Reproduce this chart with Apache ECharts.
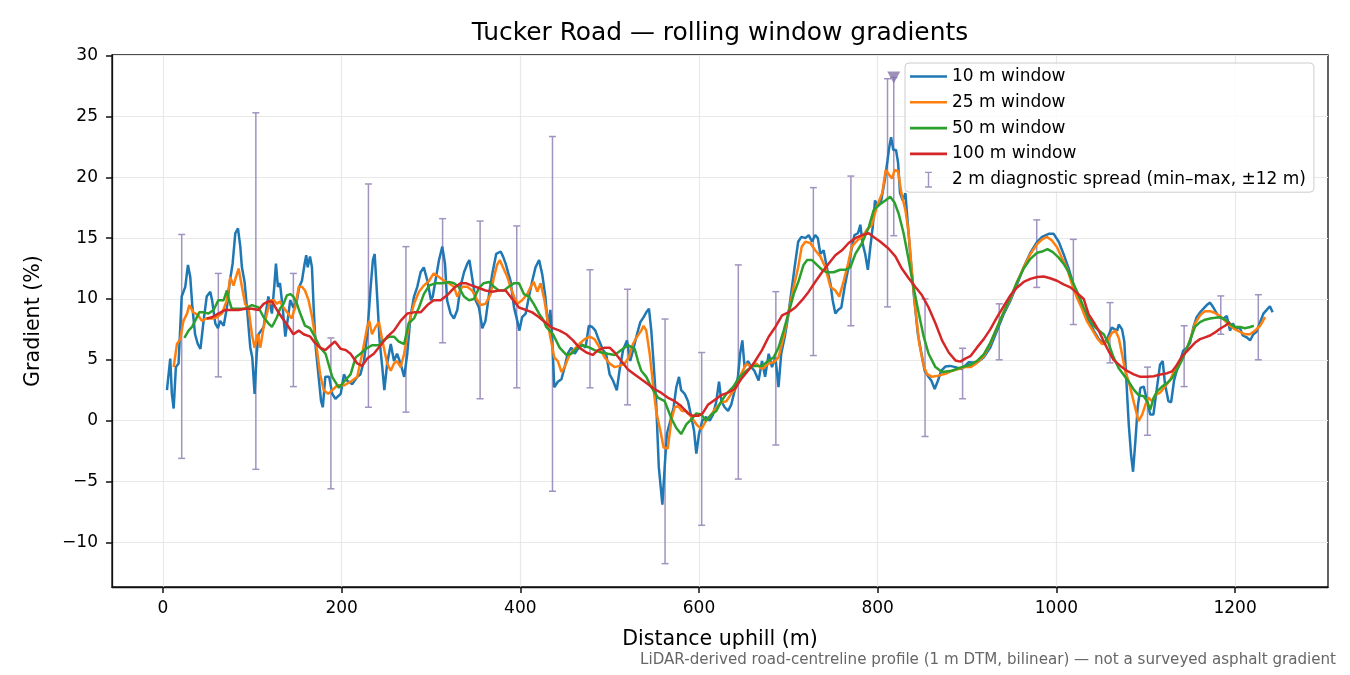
<!DOCTYPE html>
<html>
<head>
<meta charset="utf-8">
<script src="https://cdn.jsdelivr.net/npm/echarts@6/dist/echarts.min.js"></script>
<style>
  html, body { margin: 0; padding: 0; background: #fff; }
  #chart { width: 1350px; height: 675px; }
</style>
</head>
<body>
<div id="chart"></div>
<script>
// 10 m 窗口(最抖的那条)
const dist10 = [4.5,8.2,10,12,14.5,17.5,21,25,28,30.6,33,36,39,42,45.5,49,53,55,58.6,61.6,64,68,71.6,75,78,81,84,86.6,88.4,91.4,94,97.8,100,102.6,105,107,110,112.7,115,118,122,124.6,126.5,128.7,131,134,137,140,142.5,146,150,152.6,155.6,158.6,160.4,162,164.6,166.8,168.7,171,174,177,179,181.7,186,189.5,193,199,202.6,206,212,217.5,221,225,228.7,232.5,235,237,240,242.5,245.5,247.8,251,255,258.6,262,266,270,273.5,277,281,284.7,288.4,292,296,300,302,305,309,312.7,315.7,318,322,325.7,329.5,333,337,340.7,343,346,350,353.7,357.5,361,365,368.7,373,378,380.6,383.6,386.6,389,393,396.6,399,402,406,409.7,413.4,417,421,424.6,428,431,433.6,435.8,438,442,446,449.6,453,457,460.8,464.5,468,473,476.7,480.5,484,488,492.5,496,500,503.7,508,511,515,519.4,523,526.9,530.6,534.3,538,541,544,546.6,549,552,555,559,561.6,564,568,571.6,574.6,577.6,580,584,587.7,591.4,594.4,597,600,603.7,608,612,615.7,619.4,622.4,625,628.7,632.5,636,640,643.6,646,648.5,651,654.8,658.6,662,666.7,670.5,674,678,681.7,685.5,689,692,696,699.6,703,707,711,714.6,719,722.8,726.5,730,733,735.8,739.5,743,747,749.6,752.6,755.6,759.3,763,766.8,770.5,774,777.9,780.6,783,786,789,791.8,794.4,797,800,804,808,811,813,815,817.5,820.5,822.8,825,828,831,834,837.7,841,845,849,852.6,856,860,863.8,867.5,871,875.7,881,887,894,902,911,918.7,926,933.6,941,948.5,956,963.4,970.9,978.4,984,991.4,997,1002.6,1008,1013.8,1019.4,1025,1030.6,1036,1041.8,1047.4,1053,1056.7,1062,1068,1069.8,1073.5,1076,1078.4,1081,1083.6,1085.8,1088.4,1091,1094,1097.8,1101.5,1105,1108.6,1112,1116,1119,1121.6,1125.4,1128.4,1131.7,1134.7,1138.4,1142,1146,1149.6,1153.4,1157,1160.8,1164.6,1168.3,1172,1175.7,1179.5,1183,1187,1190.7,1194.4,1197.4,1201,1205,1208.6,1213,1216.8,1220.5,1224,1228,1231.7,1235.4,1239,1242];
const grad10 = [2.5,5.1,2.2,1.0,4.4,4.7,10.2,11,12.8,11.8,9.3,7.1,6.3,5.9,8.2,10.2,10.6,9.9,8.0,7.6,8.2,7.8,9.3,11.5,12.9,15.4,15.8,14.3,12.6,11.4,9.3,6.0,5.2,2.2,5.5,7.1,7.4,7.7,8.8,10.2,8.8,11,12.9,11,11.3,9.3,6.9,8.5,9.9,9.3,9.9,11,11.5,12.9,13.6,12.6,13.5,12.6,9.3,6.0,3.8,1.6,1.1,3.6,3.6,2.2,1.8,2.2,3.8,3.3,3.0,3.6,3.8,4.9,7.1,11.0,13.2,13.7,9.9,6.6,4.4,2.5,4.7,6.3,4.9,5.5,4.7,3.6,5.5,8.5,10.2,11,12.2,12.6,11.5,9.9,10.2,11.5,13.2,14.3,12.9,9.9,8.8,8.4,9.1,11,12.2,12.9,13.2,11.8,9.9,9.3,7.6,8.2,10.4,12.1,13.7,13.9,13.5,12.9,12.1,11.5,9.3,8.2,7.4,8.5,8.8,10.2,11.5,12.6,13.2,12.0,10.2,7.7,9.1,6.6,2.75,3.2,3.4,4.4,5.5,6.0,5.5,5.9,6.3,6.0,7.8,7.7,7.4,6.6,5.8,5.5,3.8,3.3,2.5,4.1,5.8,6.6,4.9,6.0,7.1,8.1,8.5,8.9,9.2,7.4,4.9,1.6,-3.8,-6.9,-3.8,-1.1,0,1.1,2.75,3.6,2.5,2.2,1.6,0.3,-0.8,-2.7,-1.1,0,0.3,0,0.5,1.6,3.2,1.6,1.1,0.8,1.3,2.5,3.6,5.5,6.6,4.4,4.9,4.4,4.1,3.3,4.9,3.6,5.5,4.4,5.2,2.75,5.5,6.9,8.5,10.4,12.6,14.7,15.1,15,15.25,14.7,15.25,15,13.7,14.0,12.6,11.3,9.9,8.8,9.1,9.3,11,12.4,14,15.25,15.4,16.1,14.6,13.7,12.4,14.3,15.9,18.1,17.6,18.1,19.8,21.4,22.5,23.3,22.25,22.25,21.2,18.7,18.1,18.7,15.9,12.6,9.9,7.1,5.5,4.1,3.7,3.3,2.6,3.3,4.1,4.45,4.5,4.4,4.25,4.8,4.75,5.2,6.0,7.4,8.75,9.85,11.2,12.6,13.8,14.7,15.1,15.35,15.35,14.7,13.7,12.5,11.1,10.0,9.0,8.2,7.4,6.7,6.3,6.7,7.65,7.4,7.9,7.5,6.5,3.2,-0.3,-2.8,-4.2,-1.7,1.1,2.7,2.8,1.6,0.5,0.5,2.4,4.6,4.9,3.0,1.6,1.5,3.3,4.1,4.9,5.75,6.0,6.4,7.7,8.5,8.9,9.2,9.5,9.7,9.3,8.8,8.5,8.4,8.6,7.4,8.0,7.5,7.7,7.0,6.85,6.6,7.1,7.3,8.1,8.8,9.1,9.4,8.9];

// 25 m 窗口
const dist25 = [12,15.7,19.4,23,27,29.5,34,39,43.6,49,55,60.4,66,71.6,75.4,79,81.7,84.7,88.4,92,96,99.6,102.6,106,109,112.7,116.4,120,124,127.6,131,135,140,144,148,152,155.6,159,163,167,171,176,180,185,189.5,195,202.6,210,217.5,223,228.7,231,234,238,241.8,245.5,251,255,258.6,262,266,270,273.5,277,281,286.6,292,298,303,309,314.5,320,325.7,329.5,335,340.7,346,351.9,355.6,361,366.8,370.5,374,377,380.6,385.5,389,393,396.6,402,407.8,411.6,415,419,422.8,427,433,438,442,446,449.6,455,460.8,466,472,477.6,483,488.8,494.4,500,505.6,511,516.8,521.6,526,530.6,535.4,538,541,544.8,548.5,552,556.7,560.4,565,569,572.8,576.5,581,585.8,591.4,597,602.6,608,613.8,619.4,625,630.6,636,641.8,647,653,658.6,664,670.5,678,683.6,689,694.8,700,706,711,715,719,724.6,730,735.8,741.4,747,752.6,757,762,766.8,771,777,782.5,788,793.6,799,805,809,812,816,819,822.8,826.5,831,834.7,838.4,842,846.6,851.5,855,860.8,868,875.7,883,890.5,898,904,911,918.7,926,933.6,941,948.5,956,963.4,970.9,978.4,984,989.5,995,1000.7,1006,1012,1017.5,1023,1028.7,1034,1039.8,1045.5,1051,1056.7,1062,1066,1069.8,1073.5,1077,1081,1084.7,1088.4,1092,1096,1099.6,1103,1107,1110.8,1116,1121.6,1127,1132,1138.4,1144,1149.6,1155,1160.8,1166.4,1172,1177.6,1183,1188.8,1194.4,1200,1205.6,1211,1216.8,1222.4,1228,1233.6];
const grad25 = [4.4,6.3,6.7,8.2,8.8,9.5,8.9,8.7,8.2,8.4,8.4,8.5,8.8,9.9,11.8,11.1,11.8,12.5,11,9.6,9.1,7.1,6.0,7.1,6.0,7.7,8.8,9.9,9.9,9.6,9.8,9.3,8.8,8.4,9.3,11,11,10.7,9.9,8.5,6.6,3.8,2.5,2.2,2.5,2.9,2.9,3.2,3.6,5.5,7.7,8.2,7.1,7.7,8.1,6.6,4.7,4.1,4.7,4.9,4.4,5.5,7.1,8.5,9.6,10.6,11.1,11.5,12.1,11.8,11.5,11.3,11,10.2,11,11,10.7,9.9,9.5,9.6,10.4,11.8,12.8,13.2,12.6,11.8,11,10.2,9.6,9.9,10.4,11,11.4,10.6,11.3,9.9,7.1,5.2,4.9,4.0,4.4,5.4,5.9,6.3,6.7,6.9,6.7,6.0,5.2,4.7,4.4,4.5,4.7,5.2,6.3,6.9,7.4,7.8,7.4,5.5,3.0,0.8,-0.8,-2.2,-2.3,0,1.1,1.2,0.8,0.8,0.3,-0.3,-0.7,0,0.5,1.1,1.5,1.6,2.2,2.75,3.8,4.7,4.4,4.7,4.25,4.7,4.8,5.2,6.9,8.8,11,12.6,14.3,14.7,14.6,14,13.5,12.6,11,10.7,10.2,11.5,12.9,14.3,14.8,15.1,15.7,16.1,17.6,18.7,20.6,20.3,19.9,20.6,20.5,18.7,17.3,15.4,12.1,9.3,6.3,4.5,3.85,3.6,3.7,3.85,4.1,4.25,4.4,4.4,4.75,5.3,6.3,7.65,8.9,10,11.4,12.6,13.7,14.5,14.9,15.1,14.8,14.25,13.4,12.5,11.2,10.1,9.2,8.2,7.5,6.8,6.3,6.5,7.2,7.4,6.8,5.45,4.1,3.2,2.1,1.0,-0.05,0.5,1.3,1.9,1.6,2.1,2.3,2.8,3.3,4.1,4.8,5.6,6.6,7.95,8.65,9.0,9.0,8.85,8.6,8.2,7.8,7.5,7.3,7.1,7.1,7.4,7.8,8.5];

// 50 m 窗口
const dist50 = [24,28.7,32.5,36,40.7,45.5,51,56.7,62,68,71.6,74,77,84.7,92,99.6,107,112.7,118,122,127.6,131,135,138.8,142.5,146,150,153.7,159,164.6,170,176,182,189.5,197,202.6,210,215.7,221,227,234,241.8,247,253,258.6,264,270,275,281,286.6,292,298,305,312.7,320,325.7,331,337,342.5,348,353.7,359,365,370.5,376,381.7,387,393,398.5,404,409.7,415,421,426.5,429,436.6,444,451.5,457,462.7,470,477.6,483,490.6,498,505.6,513,520.5,528,531.7,535.4,541,546.6,554,561.6,569,574.6,580,585.8,591.4,597,602.6,608,613.8,619.4,625,630.6,638,645.5,653,660.4,670.5,678,683.6,689,694.8,700,706,711.6,717,721,726.5,732,737.7,743,750.7,758,763.8,769.4,775,782.5,790,795.5,801,808.6,814,819,823.5,829,834.7,840,846,851.5,857,864.6,872,883,894,904,911,918.7,926,933.6,941,948.5,956,963.4,970.9,978.4,984,990,996,1002.6,1008,1013.8,1019.4,1025,1030.6,1036,1041.8,1047.4,1053,1058.6,1064,1069.8,1075,1081,1086.6,1092,1097.8,1101.5,1105,1109,1112.7,1118.3,1124,1129.5,1135,1140.7,1146,1150,1155,1160.8,1166.4,1172,1177.6,1183,1188.8,1194.4,1200,1205.6,1211,1216.8,1221];
const grad50 = [6.8,7.4,7.7,8.2,8.9,8.9,8.8,9.1,9.9,9.9,10.7,9.9,9.2,9.2,9.2,9.5,9.3,8.5,8.0,7.7,8.5,9.2,9.6,10.3,10.4,10.2,9.6,8.8,7.8,7.6,6.9,6.0,5.5,3.6,2.7,3.2,3.8,5.2,5.5,5.9,6.2,6.2,6.6,6.9,6.9,6.5,6.3,8.0,8.4,9.3,10.4,11.1,11.3,11.3,11.4,11.3,11,10.2,9.9,10,10.9,11.3,11.4,11,10.7,10.7,11,11.3,11.3,10.4,10.2,9.6,8.8,8.2,7.7,7.1,6.0,5.4,5.5,5.9,6.2,6.0,5.8,5.6,5.5,5.4,5.8,6.2,5.9,4.9,4.1,3.6,2.75,1.9,1.6,0.2,-0.6,-1.1,-0.3,0.1,0.6,0.5,0,0.5,0.8,1.6,2.2,2.75,3.6,4.1,4.5,4.5,4.95,5.2,6.0,7.4,8.8,10.4,11.5,12.8,13.2,13.2,12.8,12.4,12.2,12.2,12.4,12.4,12.6,13.7,14.6,15.9,17.3,17.7,18.1,18.4,17.9,17,15.4,13.2,11,8.8,6.9,5.5,4.4,4.0,4.1,4.4,4.6,4.9,5.45,6.4,7.65,8.9,10.1,11.4,12.5,13.3,13.8,13.9,14.1,13.85,13.4,12.9,12.2,11.2,10.3,9.3,8.5,7.8,7.4,7.1,6.3,5.2,4.3,3.8,3.2,2.55,2.1,2.0,1.6,0.9,1.9,2.4,2.8,3.1,3.5,4.2,5.0,5.9,6.7,7.7,8.1,8.3,8.4,8.45,8.5,8.3,7.95,7.7,7.7,7.6,7.7,7.8];

// 100 m 窗口
const dist100 = [49,55,62,70,77,84.7,92,99.6,107,112.7,118,122,127.6,133,140.7,146,152,157.5,165,170,176,181.7,187.7,192.5,199,204.5,210,217.5,223,228.7,236,243.6,251,258.6,266,273.5,281,288.4,296,303,310.8,318,325.7,333,339,346,353.7,361,368.7,376,383.6,391,398.5,406,413.4,421,429,436.6,444,451.5,459,466,474,481,487,494.4,500,505.6,513,520.5,528,535.4,543,550,557.5,565,572.8,580,587.7,593,599,604,610,617.5,625,632.5,640,647,654.8,662,670.5,678,685.5,693,700,707.8,715.3,722.8,730,737.7,745,752.6,760,767.5,775,782.5,790,795.5,803,812,819.8,827,834.7,842,849.6,857,864.6,872,879.5,887,892.5,898,903.7,911,918.7,926,933.6,941,948.5,956,963.4,970.9,978.4,985.8,993,1000.7,1008,1015.7,1023,1030.6,1036,1041.8,1047.4,1053,1058.6,1064,1071.6,1079,1086.6,1094,1101.5,1109,1116.4,1124,1129.5,1135,1140.7,1146,1150,1155,1160.8,1166.4,1172,1177.6,1183,1188.8,1194.4];
const grad100 = [8.4,8.5,8.8,9.1,9.1,9.1,9.2,9.2,9.1,9.6,9.8,9.8,9.1,8.5,7.7,7.1,7.4,7.1,6.9,6.4,6.0,5.8,6.2,6.5,5.9,5.8,5.5,4.7,4.5,5.1,5.5,6.2,6.9,7.4,8.2,8.8,8.9,8.9,9.5,9.9,9.9,10.3,10.9,11.3,11.3,11.1,10.9,10.7,10.6,10.7,10.7,10,9.3,9.1,8.9,8.5,8.0,7.6,7.4,7.1,6.6,6.0,5.6,5.4,5.8,6.0,6.0,5.6,4.9,4.2,3.8,3.4,3.0,2.6,2.3,1.9,1.6,1.2,0.6,0.4,0.4,0.6,1.3,1.7,2.1,2.3,2.6,3.4,4.1,4.8,5.8,6.9,7.7,8.65,8.9,9.3,9.9,10.6,11.4,12.2,12.9,13.6,14,14.6,15,15.25,15.4,15.1,14.7,14.15,13.5,12.5,11.7,11,10.3,9.3,8.0,6.6,5.6,4.95,4.85,5.1,5.3,6.0,6.7,7.5,8.5,9.4,10.3,10.95,11.4,11.65,11.8,11.85,11.7,11.5,11.2,10.95,10.5,10.0,8.75,8.1,7.4,6.5,5.7,5.0,4.5,4.1,3.8,3.6,3.6,3.65,3.8,3.9,4.05,4.6,5.3,5.7,6.0,6.4,6.7,6.85,7.0,7.25,7.55,7.8,8.1];

// 2 m 诊断离散度:位置、最小、最大
const spreadDist = [21,62,104,146,188,230,272,313,355,396,436,478,520,562,603,644,686,728,770,811,818,853,895,936,978,1019,1060,1102,1143,1184,1226];
const spreadMin = [-3.1,3.6,-4.0,2.8,-5.6,1.1,0.7,6.4,1.8,2.7,-5.8,2.7,1.3,-11.75,-8.6,-4.8,-2.0,5.35,7.8,9.35,15.2,-1.3,1.8,5.0,10.95,7.9,4.75,-1.2,2.8,7.1,5.0];
const spreadMax = [15.3,12.1,25.3,12.1,6.8,19.45,14.3,16.6,16.4,16.0,23.35,12.4,10.8,8.35,5.6,12.8,10.6,19.15,20.1,28.1,28.2,10.0,5.95,9.6,16.5,14.9,9.7,4.4,7.8,10.25,10.35];
// 最陡点标记
const peakDist = [818];
const peakGrad = [28.2];

const xTicks = [0, 200, 400, 600, 800, 1000, 1200];
const yTicks = [-10, -5, 0, 5, 10, 15, 20, 25, 30];

const FONT = 'DejaVu Sans';
const BAR_COLOR = '#a193c0';
const GRID_COLOR = '#e8e8e8';
const AXIS_COLOR = '#111';
const C10 = '#1f77b4', C25 = '#ff7f0e', C50 = '#2ca02c', C100 = '#d62728';

function pairs(xs, ys) { return xs.map((x, i) => [x, ys[i]]); }

function lineSeries(name, xs, ys, color) {
  return {
    name, type: 'line', data: pairs(xs, ys),
    showSymbol: false, symbol: 'none', smooth: false,
    lineStyle: { color, width: 2.5 }, itemStyle: { color },
    emphasis: { disabled: true }, z: 3,
  };
}

function renderErrorBar(params, api) {
  const x = api.value(0);
  const lo = api.coord([x, api.value(1)]);
  const hi = api.coord([x, api.value(2)]);
  const cap = 3.5;
  const style = { stroke: BAR_COLOR, lineWidth: 1.5 };
  return {
    type: 'group',
    children: [
      { type: 'line', shape: { x1: lo[0], y1: lo[1], x2: hi[0], y2: hi[1] }, style },
      { type: 'line', shape: { x1: lo[0] - cap, y1: lo[1], x2: lo[0] + cap, y2: lo[1] }, style },
      { type: 'line', shape: { x1: hi[0] - cap, y1: hi[1], x2: hi[0] + cap, y2: hi[1] }, style },
    ],
  };
}

// 负号用 U+2212,和参考图一致;千分位不要
const fmtNum = (v) => String(v).replace('-', '\u2212');
const LINE_ICON = 'path://M0,0H40V2.8H0Z';
const BAR_ICON = 'path://M0,0H7V1.4H4.2V14.6H7V16H0V14.6H2.8V1.4H0Z';

function axisBase(ticks) {
  return {
    axisLine: { show: true, onZero: false, lineStyle: { color: AXIS_COLOR, width: 1.3 } },
    axisTick: { show: true, inside: false, customValues: ticks, length: 6, lineStyle: { color: AXIS_COLOR, width: 1.5 } },
    splitLine: { show: true, lineStyle: { color: GRID_COLOR, width: 1.2 } },
  };
}

const chart = echarts.init(document.getElementById('chart'));
chart.setOption({
  animation: false,
  backgroundColor: '#fff',
  textStyle: { fontFamily: FONT },
  grid: { left: 112, top: 55, width: 1216, height: 532, show: true, borderColor: AXIS_COLOR, borderWidth: 1.3, backgroundColor: 'transparent' },
  xAxis: {
    type: 'value', min: -57, max: 1304,
    ...axisBase(xTicks),
    axisLabel: { customValues: xTicks, color: '#000', fontSize: 17, fontFamily: FONT, margin: 13, formatter: fmtNum },
  },
  yAxis: {
    type: 'value', min: -13.67, max: 30.05,
    ...axisBase(yTicks),
    axisLabel: { customValues: yTicks, color: '#000', fontSize: 17, fontFamily: FONT, margin: 14, formatter: fmtNum },
  },
  legend: {
    orient: 'vertical', left: 905, top: 63,
    padding: [5, 8, 4, 5], itemGap: 8.8, itemWidth: 37, itemHeight: 16, itemTextGap: 11,
    backgroundColor: 'rgba(255,255,255,0.8)', borderColor: '#cccccc', borderWidth: 1, borderRadius: 4,
    textStyle: { fontFamily: FONT, fontSize: 17, color: '#000' },
    itemStyle: { borderWidth: 0 },
    data: [
      { name: '10 m window', icon: LINE_ICON },
      { name: '25 m window', icon: LINE_ICON },
      { name: '50 m window', icon: LINE_ICON },
      { name: '100 m window', icon: LINE_ICON },
      { name: '2 m diagnostic spread (min\u2013max, \u00b112 m)', icon: BAR_ICON },
    ],
  },
  graphic: [
    { type: 'text', x: 720, y: 34, style: { text: 'Tucker Road \u2014 rolling window gradients', font: '24.9px "DejaVu Sans"', fill: '#000', textAlign: 'center', textVerticalAlign: 'middle' } },
    { type: 'text', x: 720, y: 640, style: { text: 'Distance uphill (m)', font: '20.6px "DejaVu Sans"', fill: '#000', textAlign: 'center', textVerticalAlign: 'middle' } },
    { type: 'text', x: 34, y: 321, rotation: Math.PI / 2, style: { text: 'Gradient (%)', font: '20.6px "DejaVu Sans"', fill: '#000', textAlign: 'center', textVerticalAlign: 'middle' } },
    { type: 'text', x: 1336, y: 660, style: { text: 'LiDAR-derived road-centreline profile (1 m DTM, bilinear) \u2014 not a surveyed asphalt gradient', font: '15.1px "DejaVu Sans"', fill: '#666', textAlign: 'right', textVerticalAlign: 'middle' } },
  ],
  series: [
    {
      name: '2 m diagnostic spread (min\u2013max, \u00b112 m)', type: 'custom',
      data: spreadDist.map((x, i) => [x, spreadMin[i], spreadMax[i]]),
      encode: { x: 0, y: [1, 2] }, renderItem: renderErrorBar,
      itemStyle: { color: BAR_COLOR }, z: 2, silent: true,
    },
    lineSeries('10 m window', dist10, grad10, C10),
    lineSeries('25 m window', dist25, grad25, C25),
    lineSeries('50 m window', dist50, grad50, C50),
    lineSeries('100 m window', dist100, grad100, C100),
    {
      name: 'peak', type: 'scatter', data: pairs(peakDist, peakGrad),
      symbol: 'triangle', symbolRotate: 180, symbolSize: [13, 12],
      itemStyle: { color: '#8474a8' }, z: 4, silent: true,
    },
  ],
});
</script>
</body>
</html>
